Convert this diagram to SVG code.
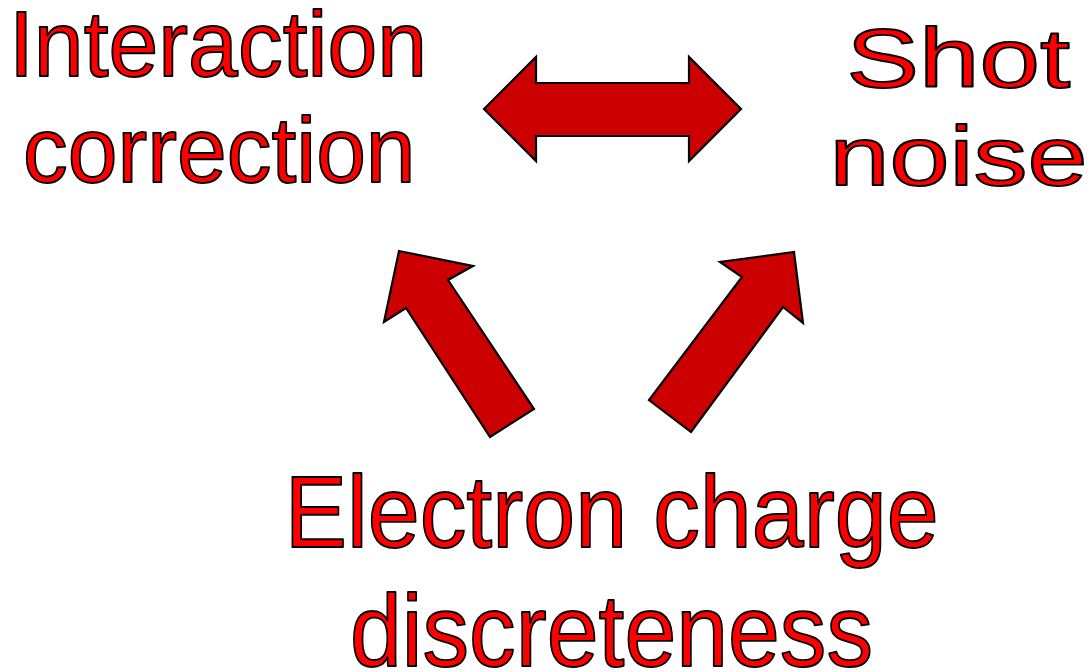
<svg xmlns="http://www.w3.org/2000/svg" width="1091" height="672" viewBox="0 0 1091 672">
<style>
.lbl{font-family:"Liberation Sans",Arial,sans-serif;fill:#FF0000;stroke:#000;stroke-width:1.9;stroke-linejoin:round}
.arr{fill:#CC0000;stroke:#000;stroke-width:2.2;stroke-linejoin:miter}
</style>
<rect width="1091" height="672" fill="#fff"/>
<g id="node-interaction">
<text class="lbl" x="9" y="76" font-size="92" textLength="418" lengthAdjust="spacingAndGlyphs">Interaction</text>
<text class="lbl" x="23" y="182" font-size="92" textLength="392.6" lengthAdjust="spacingAndGlyphs">correction</text>
</g>
<g id="node-shot">
<text class="lbl" x="846.5" y="87" font-size="83" textLength="223.6" lengthAdjust="spacingAndGlyphs">Shot</text>
<text class="lbl" x="829.5" y="185" font-size="83" textLength="258" lengthAdjust="spacingAndGlyphs">noise</text>
</g>
<g id="node-electron">
<text class="lbl" x="284.7" y="547" font-size="102" textLength="654" lengthAdjust="spacingAndGlyphs">Electron charge</text>
<text class="lbl" x="350" y="666" font-size="102" textLength="523" lengthAdjust="spacingAndGlyphs">discreteness</text>
</g>
<g id="connectors">
<polygon class="arr" points="484,109 536,57 536,83 689,83 689,57 741,109 689,161 689,136 536,136 536,161"/>
<polygon class="arr" points="399,251 473,266 448,280 534,409 490,437 406,308 384,322"/>
<polygon class="arr" points="794,252 803,323 783,307 691,432 649,400 742,277 720,262"/>
</g>
</svg>
